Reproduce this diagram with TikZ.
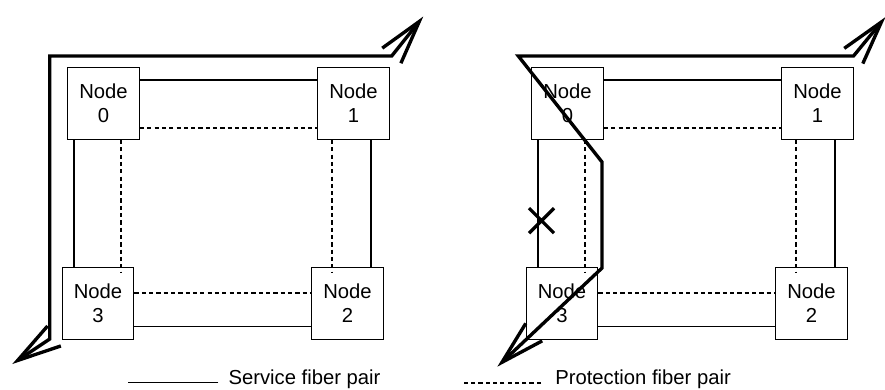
\documentclass[tikz,border=0pt]{standalone}
\usepackage{fontspec}
\setmainfont{Liberation Sans}
\usetikzlibrary{arrows.meta}

\begin{document}
\begin{tikzpicture}[x=0.025cm, y=-0.025cm,
  >={Straight Barb[length=1.1cm, width=.6cm]},
  box/.style={draw, line width=0.9pt, minimum size=1.79cm, inner sep=0pt,
    align=center, font=\fontsize{14.4}{17}\selectfont},
  service/.style={line width=0.9pt},
  protect/.style={line width=1.2pt, dash pattern=on 3pt off 2.2pt},
  route/.style={line width=2.4pt, <->},
  cutmark/.style={line width=2.3pt},
  lbl/.style={anchor=base west, inner sep=0pt, font=\fontsize{14.4}{17}\selectfont}]

\useasboundingbox (0,0) rectangle (885,389);

% RINGS (normal on the left, cut on the right)
\foreach \s/\dx in {l/0, r/464} {
  \begin{scope}[shift={(\dx,0)}]
  \node[box] (\s0) at (103.5,103.5) {Node\\0};
  \node[box] (\s1) at (353.5,103.5) {Node\\1};
  \node[box] (\s3) at (98,303.5)    {Node\\3};
  \node[box] (\s2) at (347.5,303.5) {Node\\2};

  % service fibers
  \draw[service] (\s0.east |- 0,80)    -- (\s1.west |- 0,80);
  \draw[service] (\s0.south -| 74,0)   -- (\s3.north -| 74,0);
  \draw[service] (\s1.south -| 371,0)  -- (\s2.north -| 371,0);
  \draw[service] (\s3.east |- 0,326.7) -- (\s2.west |- 0,326.7);

  % protection fibers
  \draw[protect] (\s0.east |- 0,128)   -- (\s1.west |- 0,128);
  \draw[protect] (\s0.south -| 121,0)  -- (\s3.north -| 121,0) -- ++(0,5);
  \draw[protect] (\s1.south -| 332,0)  -- (\s2.north -| 332,0) -- ++(0,5);
  \draw[protect] (\s3.east |- 0,292.7) -- (\s2.west |- 0,292.7);
  \end{scope}
}

% TRAFFIC ROUTES
\draw[route] (12.3,364) -- (49.7,339) -- (49.7,56) -- (391.7,56) -- (423.3,16.5);
\draw[route] (497.3,366.7) -- (602,268) -- (602,162) -- (518.3,56) -- (853.5,56) -- (885.5,17);

% fiber cut
\coordinate (cut) at (541.5,220.7);
\draw[cutmark] (cut) ++(-12.5,-12.5) -- ++(25,25)
               (cut) ++(-12.5,12.5)  -- ++(25,-25);

% LEGEND
\node[lbl] (svc)  at (228.3,384.5) {Service fiber pair};
\node[lbl] (prot) at (555,384.5)   {Protection fiber pair};
\draw[service] (svc.base west)  ++(-10,-1.8) -- ++(-90,0);
\draw[protect] (prot.base west) ++(-14,-1.8) -- ++(-80,0);

\end{tikzpicture}
\end{document}
